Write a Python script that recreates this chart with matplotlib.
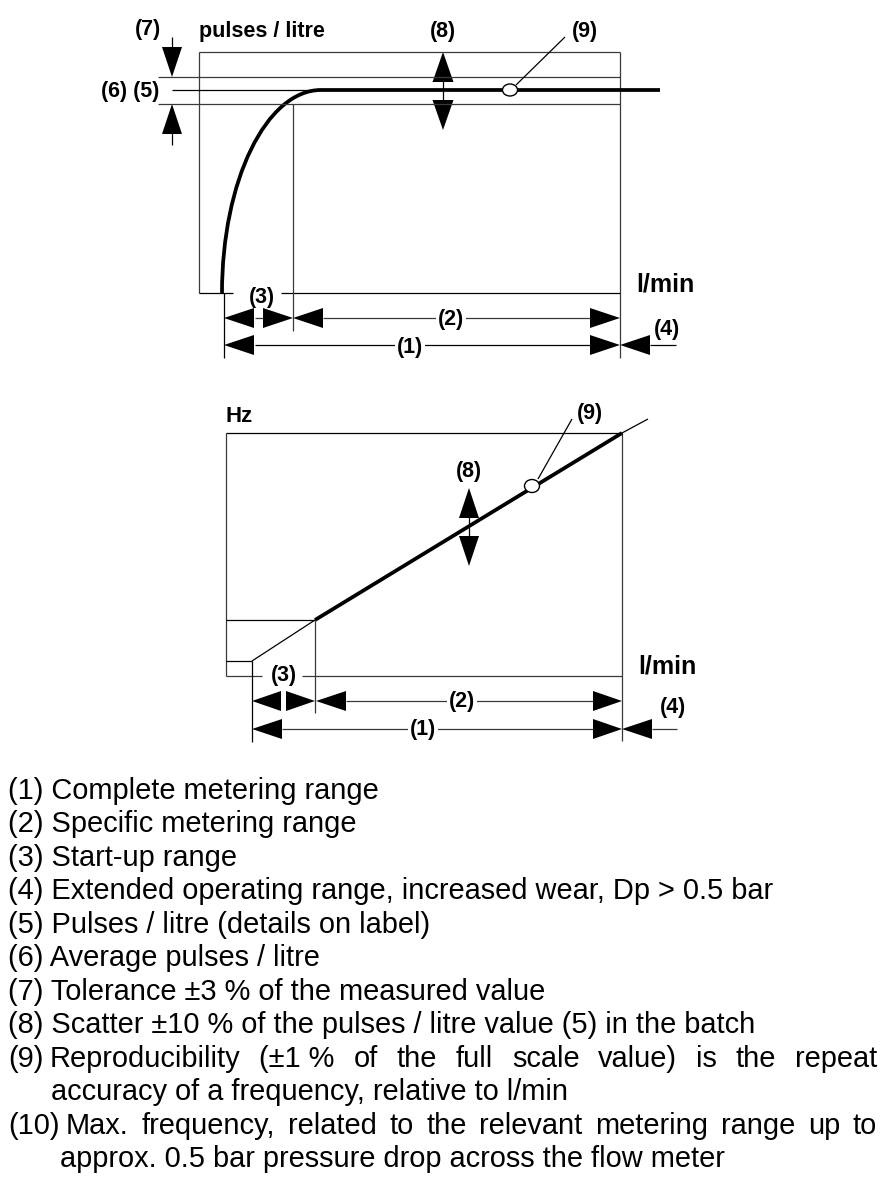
import numpy as np
import matplotlib
matplotlib.use("Agg")
import matplotlib.pyplot as plt
from matplotlib.patches import Polygon, Ellipse, PathPatch
from matplotlib.path import Path

plt.rcParams['font.family'] = ['Liberation Sans', 'DejaVu Sans']

# === LEGEND TEXT ===
legend_simple = [
    "(1) Complete metering range",
    "(2) Specific metering range",
    "(3) Start-up range",
    "(4) Extended operating range, increased wear, Dp > 0.5 bar",
    "(5) Pulses / litre (details on label)",
    "(6) Average pulses / litre",
    "(7) Tolerance \u00b13 % of the measured value",
    "(8) Scatter \u00b110 % of the pulses / litre value (5) in the batch",
]
item9_words = ["Reproducibility", "(\u00b11 %", "of", "the", "full", "scale",
               "value)", "is", "the", "repeat"]
item9_cont = "accuracy of a frequency, relative to l/min"
item10_words = ["Max.", "frequency,", "related", "to", "the", "relevant",
                "metering", "range", "up", "to"]
item10_cont = "approx. 0.5 bar pressure drop across the flow meter"

# === TOP DIAGRAM (pulses / litre vs l/min), pixel positions ===
top_box = (199, 620, 52, 293)        # left, right, top, bottom
top_level = 90                       # pulses / litre (5)/(6)
top_tol = (77, 104)                  # tolerance band (7)
top_x = dict(start=224, spec=293, knee=321, ext=660)
top_rows = (318, 345)

# === BOTTOM DIAGRAM (Hz vs l/min) ===
bot_box = (226, 622, 433, 676)
bot_start = (252, 661)
bot_spec = (315, 620)
bot_ext = (648, 419)
bot_rows = (701, 729)

LW_THIN = 0.9
LW_THICK = 2.7
GRAY = '#3a3a3a'
LABEL_FS = 15.5

fig = plt.figure(figsize=(8.92, 11.89), dpi=100)
ax = fig.add_axes([0, 0, 1, 1])
ax.set_xlim(0, 892)
ax.set_ylim(1189, 0)
ax.axis('off')


def line(xs, ys, lw=LW_THIN, color=GRAY):
    ax.plot(xs, ys, color=color, lw=lw, solid_capstyle='butt')


def head(tx, ty, direction, length=30, half=10):
    dx, dy = {'left': (1, 0), 'right': (-1, 0), 'up': (0, 1), 'down': (0, -1)}[direction]
    bx, by = tx + dx * length, ty + dy * length
    px, py = -dy * half, dx * half
    ax.add_patch(Polygon([(tx, ty), (bx + px, by + py), (bx - px, by - py)],
                         closed=True, color='black', lw=0))


def label(x, y, s, size=LABEL_FS, ha='center', bg=False):
    kw = {}
    if bg:
        kw['bbox'] = dict(facecolor='white', edgecolor='none', pad=1.5)
    ax.text(x, y, s, fontsize=size, fontweight='bold', ha=ha, va='center', **kw)


# ---------------- top diagram ----------------
L, R, T, B = top_box
line([L, L], [T, B])
line([L, R], [T, T])
line([R, R], [T, 358])
line([L, top_x['start'] + 9], [B, B], color='black')
line([281, R], [B, B], color='black')
for ty in top_tol:
    line([158, R], [ty, ty])
line([172, top_x['knee']], [top_level, top_level], color='black')
line([top_x['knee'], top_x['ext']], [top_level, top_level], lw=LW_THICK, color='black')

# start-up curve (cubic Bezier, vertical start, horizontal end)
x0, xk = top_x['start'] - 2, top_x['knee']
k = 0.5523
verts = [(x0, B), (x0, B - k * (B - top_level)), (xk - k * (xk - x0), top_level), (xk, top_level)]
ax.add_patch(PathPatch(Path(verts, [Path.MOVETO, Path.CURVE4, Path.CURVE4, Path.CURVE4]),
                       fill=False, lw=LW_THICK, color='black', capstyle='butt'))

line([top_x['spec'], top_x['spec']], [top_tol[1], 331])
line([top_x['start'], top_x['start']], [B, 358], color='black')

# (7) arrows
line([172, 172], [37, 50], color='black')
head(172, top_tol[0], 'down', length=30, half=10)
head(172, top_tol[1], 'up', length=30, half=10)
line([172, 172], [130, 145], color='black')

# (8) arrows
head(443, T, 'up', length=30, half=10.5)
head(443, 130, 'down', length=30, half=10.5)
line([443, 443], [80, 102], color='black')

# (9) point + leader
ax.add_patch(Ellipse((510, top_level), 15, 12, facecolor='white', edgecolor='black', lw=1, zorder=5))
line([516, 565], [85, 37], color='black')

# dimension rows
r1, r2 = top_rows
head(top_x['start'], r1, 'left')
head(top_x['spec'], r1, 'right')
line([255, 263], [r1, r1])
head(top_x['spec'], r1, 'left')
line([323, 590], [r1, r1])
head(R, r1, 'right')
head(top_x['start'], r2, 'left')
line([255, 590], [r2, r2], color='black')
head(R, r2, 'right')
head(R, r2, 'left')
line([650, 676], [r2, r2], color='black')

label(148, 30, "(7)")
label(L, 32, "pulses / litre", ha='left')
label(443, 32, "(8)")
label(585, 32, "(9)")
label(130, 91, "(6) (5)")
label(262, 297, "(3)")
label(451, 320, "(2)", bg=True)
label(410, 347, "(1)", bg=True)
label(667, 330, "(4)")
label(665, 285, "l/min", size=18)

# ---------------- bottom diagram ----------------
L, R, T, B = bot_box
line([L, L], [T, B])
line([L, R], [T, T], color='black')
line([R, R], [T, 741])
line([L, 262], [B, B])
line([302, R], [B, B])
line([L, bot_start[0]], [bot_start[1], bot_start[1]], color='black')
line([L, bot_spec[0]], [bot_spec[1], bot_spec[1]], color='black')
line([bot_start[0], bot_spec[0]], [bot_start[1], bot_spec[1]], color='black')
line([bot_spec[0], R], [bot_spec[1], T], lw=LW_THICK, color='black')
line([R, bot_ext[0]], [T, bot_ext[1]], color='black')
line([bot_start[0], bot_start[0]], [bot_start[1], 742], color='black')
line([bot_spec[0], bot_spec[0]], [bot_spec[1], 713])

ax.add_patch(Ellipse((532, 486), 15, 13, facecolor='white', edgecolor='black', lw=1, zorder=5))
line([538, 572], [479, 419], color='black')

head(469, 488, 'up', length=30, half=10)
head(469, 566, 'down', length=30, half=10)
line([469, 469], [516, 538], color='black')

r1, r2 = bot_rows
head(bot_start[0], r1, 'left', length=29)
head(bot_spec[0], r1, 'right', length=29)
head(bot_spec[0] + 1, r1, 'left', length=30)
line([346, 593], [r1, r1])
head(R, r1, 'right', length=29)
head(bot_start[0], r2, 'left', length=30)
line([282, 593], [r2, r2])
head(R, r2, 'right', length=29)
head(R, r2, 'left', length=30)
line([652, 677], [r2, r2])

label(239, 416, "Hz", size=16)
label(590, 413, "(9)")
label(469, 472, "(8)")
label(284, 675, "(3)")
label(462, 702, "(2)", bg=True)
label(423, 730, "(1)", bg=True)
label(673, 708, "(4)")
label(667, 666, "l/min", size=18)

# ---------------- legend ----------------
FS = 20.9
base0, step = 799, 33.45
for i, s in enumerate(legend_simple):
    ax.text(8, base0 + step * i, s, fontsize=FS, va='baseline', ha='left')

renderer = fig.canvas.get_renderer()


def justify(words, x_start, x_end, y):
    texts = [ax.text(0, y, w, fontsize=FS, va='baseline', ha='left') for w in words]
    widths = [t.get_window_extent(renderer).width for t in texts]
    gap = (x_end - x_start - sum(widths)) / (len(words) - 1)
    x = x_start
    for t, w in zip(texts, widths):
        t.set_x(x)
        x += w + gap


y9 = base0 + step * 8
ax.text(8, y9, "(9)", fontsize=FS, va='baseline', ha='left')
justify(item9_words, 50, 877, y9)
ax.text(51, y9 + step, item9_cont, fontsize=FS, va='baseline', ha='left')

y10 = base0 + step * 10
ax.text(8, y10, "(10)", fontsize=FS, va='baseline', ha='left')
justify(item10_words, 66, 877, y10)
ax.text(60, y10 + step, item10_cont, fontsize=FS, va='baseline', ha='left')

fig.savefig("out.png", dpi=100)
